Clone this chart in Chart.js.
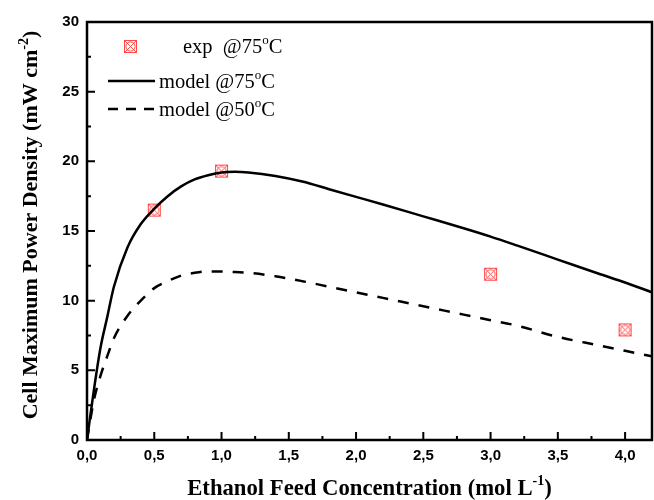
<!DOCTYPE html>
<html>
<head>
<meta charset="utf-8">
<script src="https://cdn.jsdelivr.net/npm/chart.js@4.4.0/dist/chart.umd.min.js"></script>
<style>
  html,body{margin:0;padding:0;background:#fff;}
  #wrap{width:654px;height:500px;}
</style>
</head>
<body>
<div id="wrap"><canvas id="c" width="654" height="500"></canvas></div>
<script>
/* ---- données ---- */
const conc    = [0,0.05,0.1,0.15,0.2,0.3,0.4,0.5,0.6,0.7,0.8,0.9,1.0,1.1,1.2,1.4,1.6,1.8,2.0,2.2,2.5,2.8,3.0,3.2,3.5,3.8,4.0,4.2];
const model75 = [0,3.5,6.6,8.8,11.0,13.8,15.5,16.6,17.5,18.2,18.7,19.0,19.2,19.25,19.2,18.95,18.55,18.0,17.45,16.9,16.05,15.2,14.6,13.95,12.95,11.95,11.3,10.6];
const model50 = [0,2.8,4.6,6.0,7.3,8.9,10.0,10.9,11.4,11.8,12.0,12.1,12.1,12.05,12.0,11.75,11.4,11.0,10.6,10.2,9.6,9.0,8.6,8.2,7.4,6.8,6.4,6.0];
const expConc  = [0.5,1.0,3.0,4.0];
const expPower = [16.5,19.3,11.9,7.9];
const xTicks = [0,0.5,1.0,1.5,2.0,2.5,3.0,3.5,4.0];
const xMinor = [0.25,0.75,1.25,1.75,2.25,2.75,3.25,3.75];
const yTicks = [0,5,10,15,20,25,30];
const yMinor = [2.5,7.5,12.5,17.5,22.5,27.5];

const ROUGE = '#ff3535';
const SERIF = '"Liberation Serif", "Times New Roman", serif';
const SANS  = '"Liberation Sans", Arial, sans-serif';

/* marqueur : carré + croix + cercle */
function marqueur(){
  const s = 15, cv = document.createElement('canvas');
  cv.width = s; cv.height = s;
  const g = cv.getContext('2d');
  g.strokeStyle = ROUGE; g.lineWidth = 0.9;
  g.strokeRect(1.5,1.5,s-3,s-3);
  g.beginPath(); g.moveTo(1.5,1.5); g.lineTo(s-1.5,s-1.5); g.moveTo(s-1.5,1.5); g.lineTo(1.5,s-1.5); g.stroke();
  g.beginPath(); g.arc(s/2,s/2,4.6,0,Math.PI*2); g.stroke();
  return cv;
}
const pt = marqueur();

/* texte avec exposants : parts = [[texte, exposant?], ...] */
function largeur(ctx, parts, taille, gras){
  let w = 0;
  parts.forEach(([t,sup])=>{
    ctx.font = `${gras?'bold ':''}${sup?Math.round(taille*0.62):taille}px ${SERIF}`;
    w += ctx.measureText(t).width;
  });
  return w;
}
function texteRiche(ctx, parts, x, y, taille, gras){
  ctx.textBaseline = 'alphabetic'; ctx.textAlign = 'left';
  parts.forEach(([t,sup])=>{
    ctx.font = `${gras?'bold ':''}${sup?Math.round(taille*0.62):taille}px ${SERIF}`;
    ctx.fillText(t, x, sup ? y - taille*0.42 : y);
    x += ctx.measureText(t).width;
  });
}

const titreX = [['Ethanol Feed Concentration (mol L'],['-1',true],[')']];
const titreY = [['Cell Maximum Power Density (mW cm'],['-2',true],[')']];

const decor = {
  id:'decor',
  afterDraw(chart){
    const {ctx, chartArea:a, scales:{x,y}} = chart;
    ctx.save();
    ctx.strokeStyle = '#000'; ctx.fillStyle = '#000';
    /* cadre */
    ctx.lineWidth = 2.5;
    ctx.strokeRect(a.left, a.top, a.right-a.left, a.bottom-a.top);
    /* graduations intérieures */
    ctx.lineWidth = 2;
    ctx.beginPath();
    xTicks.forEach(v=>{ const px=x.getPixelForValue(v); ctx.moveTo(px,a.bottom); ctx.lineTo(px,a.bottom-8); });
    xMinor.forEach(v=>{ const px=x.getPixelForValue(v); ctx.moveTo(px,a.bottom); ctx.lineTo(px,a.bottom-4); });
    yTicks.forEach(v=>{ const py=y.getPixelForValue(v); ctx.moveTo(a.left,py); ctx.lineTo(a.left+8,py); });
    yMinor.forEach(v=>{ const py=y.getPixelForValue(v); ctx.moveTo(a.left,py); ctx.lineTo(a.left+4,py); });
    ctx.stroke();

    /* titres d'axes */
    const wx = largeur(ctx, titreX, 22.7, true);
    texteRiche(ctx, titreX, (a.left+a.right)/2 - wx/2, 495, 22.7, true);
    const wy = largeur(ctx, titreY, 22, true);
    ctx.save();
    ctx.translate(37, 225);
    ctx.rotate(-Math.PI/2);
    texteRiche(ctx, titreY, -wy/2, 0, 22, true);
    ctx.restore();

    /* légende */
    const L = 20.5, lx = a.left, ly = a.top;
    ctx.drawImage(pt, lx+36, ly+17);
    texteRiche(ctx, [['exp  @75'],['o',true],['C']], lx+96, ly+31, L, false);
    ctx.lineWidth = 2.5;
    ctx.beginPath(); ctx.moveTo(lx+21, ly+59); ctx.lineTo(lx+68, ly+59); ctx.stroke();
    texteRiche(ctx, [['model @75'],['o',true],['C']], lx+72, ly+66, L, false);
    ctx.setLineDash([10,8]);
    ctx.beginPath(); ctx.moveTo(lx+21, ly+87); ctx.lineTo(lx+68, ly+87); ctx.stroke();
    ctx.setLineDash([]);
    texteRiche(ctx, [['model @50'],['o',true],['C']], lx+72, ly+94, L, false);
    ctx.restore();
  }
};

const virgule = v => Number(v).toFixed(1).replace('.', ',');

new Chart(document.getElementById('c'), {
  type:'line',
  data:{datasets:[
    {label:'model @75°C', data:conc.map((c,i)=>({x:c,y:model75[i]})),
     borderColor:'#000', borderWidth:2.5, pointRadius:0, cubicInterpolationMode:'monotone'},
    {label:'model @50°C', data:conc.map((c,i)=>({x:c,y:model50[i]})),
     borderColor:'#000', borderWidth:2.5, borderDash:[11,10], pointRadius:0, cubicInterpolationMode:'monotone'},
    {label:'exp @75°C', data:expConc.map((c,i)=>({x:c,y:expPower[i]})),
     showLine:false, pointStyle:pt, pointRadius:7, borderColor:ROUGE}
  ]},
  options:{
    responsive:false, animation:false, devicePixelRatio:1,
    layout:{autoPadding:false, padding:{left:0, right:2, top:22, bottom:0}},
    plugins:{legend:{display:false}, tooltip:{enabled:false}},
    scales:{
      x:{type:'linear', min:0, max:4.2,
         afterBuildTicks: s => { s.ticks = xTicks.map(v=>({value:v})); },
         afterFit: s => { s.height = 60; s.paddingLeft = 0; s.paddingRight = 0; },
         grid:{display:false, drawTicks:false}, border:{display:false},
         ticks:{color:'#000', padding:7, font:{family:SANS, weight:'bold', size:15}, callback:v=>virgule(v), maxRotation:0}},
      y:{type:'linear', min:0, max:30,
         afterBuildTicks: s => { s.ticks = yTicks.map(v=>({value:v})); },
         afterFit: s => { s.width = 87; s.paddingTop = 0; s.paddingBottom = 0; },
         grid:{display:false, drawTicks:false}, border:{display:false},
         ticks:{color:'#000', padding:8, font:{family:SANS, weight:'bold', size:15}}}
    }
  },
  plugins:[decor]
});
</script>
</body>
</html>
